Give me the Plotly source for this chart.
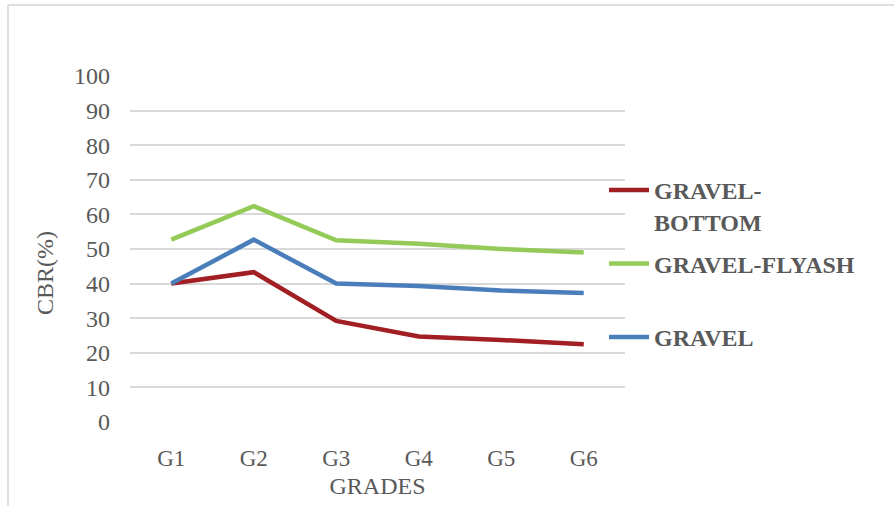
import plotly.graph_objects as go

# CBR results per grade for each mix
grades = ["G1", "G2", "G3", "G4", "G5", "G6"]
gravel_bottom = [40.0, 43.3, 29.2, 24.7, 23.7, 22.5]
gravel_flyash = [52.7, 62.4, 52.5, 51.5, 50.0, 49.0]
gravel = [40.0, 52.7, 40.0, 39.3, 38.0, 37.3]

y_ticks = list(range(0, 101, 10))

W, H = 894, 506
L, R, T, B = 130, 269, 76, 84
TXT = "#595959"
FONT = "Liberation Serif"

fig = go.Figure()
series = [
    ("GRAVEL-<br>BOTTOM", gravel_bottom, "#A11E22"),
    ("GRAVEL-FLYASH<br> ", gravel_flyash, "#94CB58"),
    ("GRAVEL<br> ", gravel, "#4A7EBB"),
]
for i, (name, vals, col) in enumerate(series):
    fig.add_trace(go.Scatter(
        x=grades, y=vals, name=name, mode="lines",
        line=dict(color=col, width=4.5),
        legendgroup=f"g{i}",
    ))

pw = W - L - R
ph = H - T - B


def px_x(x):
    return (x - L) / pw


def px_y(y):
    return (H - B - y) / ph


fig.update_layout(
    width=W, height=H,
    margin=dict(l=L, r=R, t=T, b=B),
    paper_bgcolor="white", plot_bgcolor="white",
    font=dict(family=FONT, color=TXT),
    xaxis=dict(
        type="category", range=[-0.5, len(grades) - 0.5],
        showgrid=False, zeroline=False, showline=False,
        ticks="", tickfont=dict(size=23, color=TXT), ticklabelstandoff=20,
        title=dict(text="GRADES", font=dict(size=24, color=TXT), standoff=7),
    ),
    yaxis=dict(
        range=[0, 100], tickvals=y_ticks, showgrid=True,
        gridcolor="#D9D9D9", gridwidth=1.5, zeroline=False, showline=False,
        ticks="", tickfont=dict(size=24, color=TXT), ticklabelstandoff=19,
    ),
    showlegend=True,
    legend=dict(
        x=px_x(604), y=px_y(168), xanchor="left", yanchor="top",
        font=dict(size=24, color=TXT, family=FONT, weight="bold"),
        valign="top", tracegroupgap=8, itemwidth=40,
        bgcolor="rgba(0,0,0,0)",
    ),
    annotations=[dict(
        text="CBR(%)", textangle=-90, showarrow=False,
        x=px_x(45), y=px_y(273), xref="paper", yref="paper",
        xanchor="center", yanchor="middle",
        font=dict(size=24, color=TXT, family=FONT),
    )],
    shapes=[
        dict(type="line", xref="paper", yref="paper",
             x0=px_x(8), x1=px_x(W), y0=px_y(5), y1=px_y(5),
             line=dict(color="#D4D4D4", width=1.5)),
        dict(type="line", xref="paper", yref="paper",
             x0=px_x(8), x1=px_x(8), y0=px_y(5), y1=px_y(H),
             line=dict(color="#D4D4D4", width=1.5)),
    ],
)

fig.write_html("out.html")
